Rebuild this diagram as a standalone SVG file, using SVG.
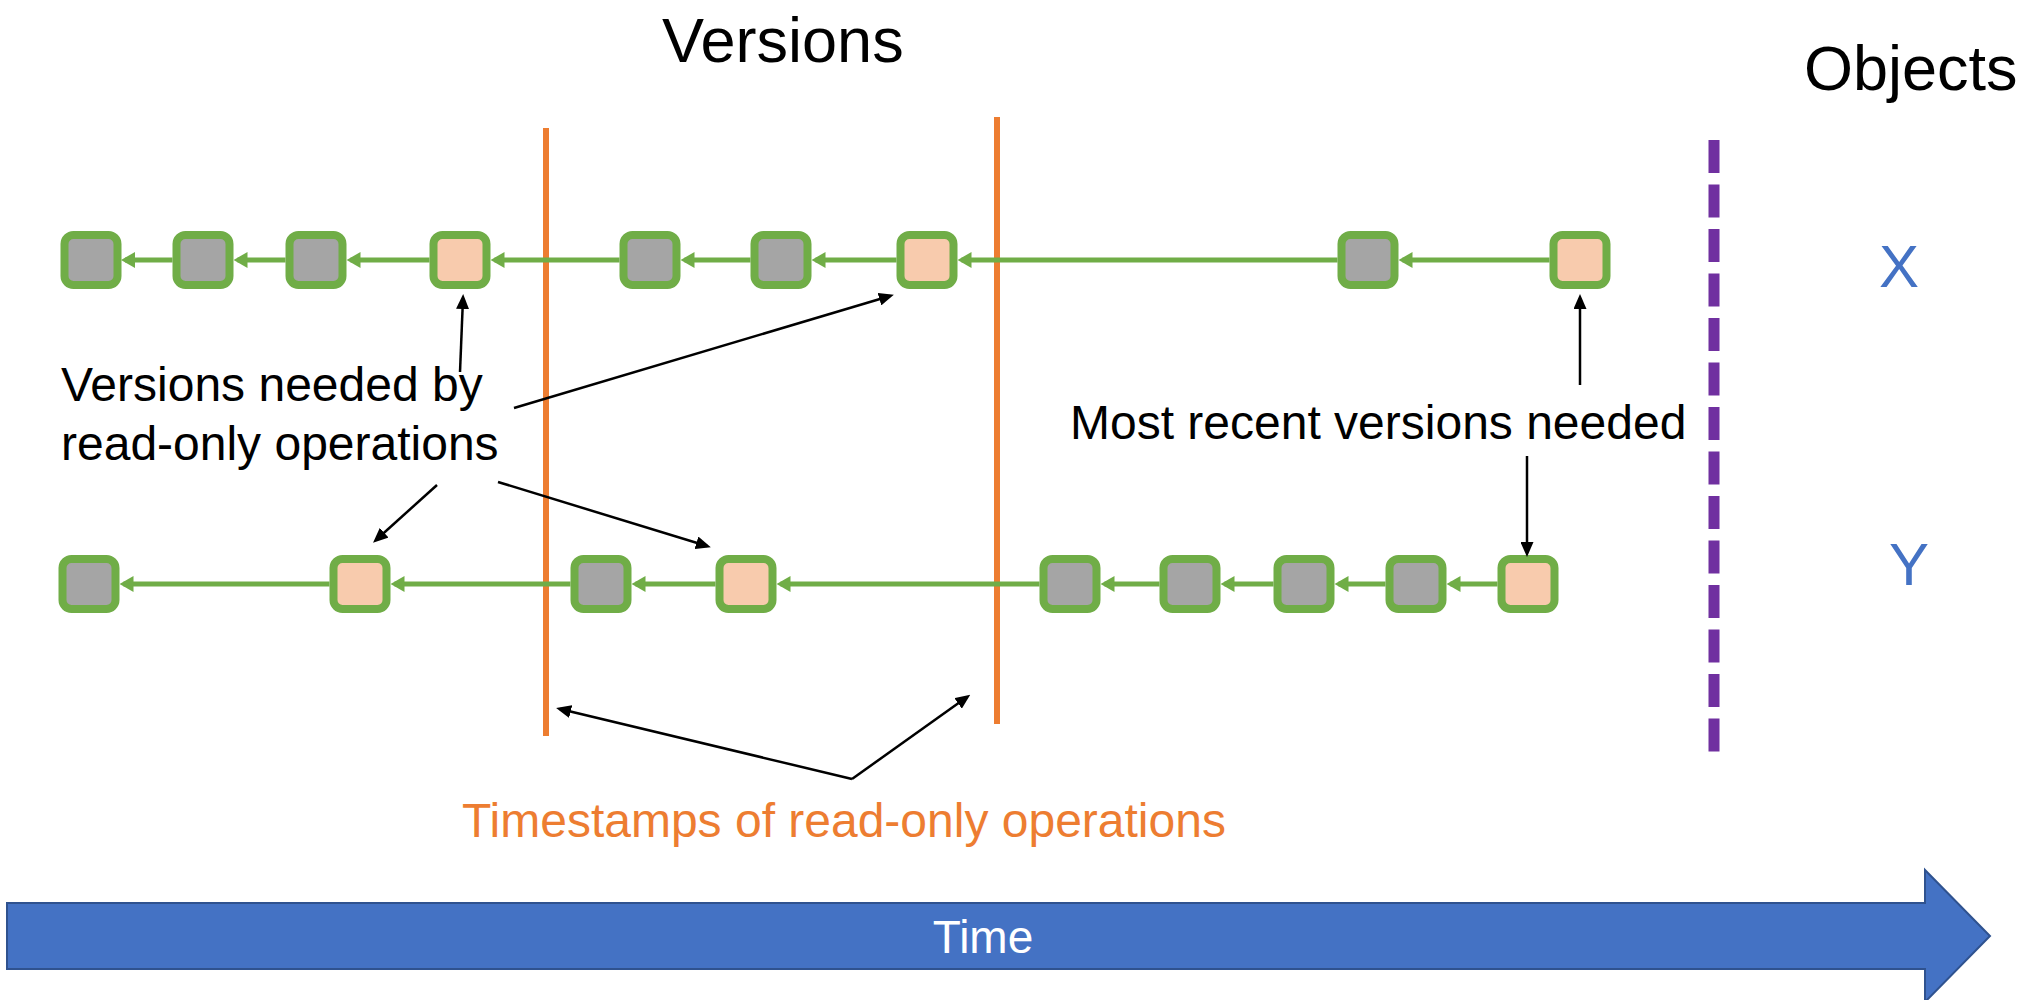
<svg xmlns="http://www.w3.org/2000/svg" width="2025" height="1000" viewBox="0 0 2025 1000">
  <style>
    .txt { font-family: "Liberation Sans", Arial, sans-serif; }
    .title { font-size: 63px; fill: #000; }
    .note { font-size: 48px; fill: #000; }
    .obj { font-size: 60px; fill: #4472C4; }
    .ts { font-size: 48px; fill: #ED7D31; }
    .node rect { stroke: #70AD47; stroke-width: 8; }
    .old rect { fill: #A5A5A5; }
    .need rect { fill: #F8CBAD; }
    .chain line { stroke: #70AD47; stroke-width: 5; marker-end: url(#gArrow); }
    .callout line { stroke: #000; stroke-width: 2.5; fill: none; marker-end: url(#kArrow); }
    .stamp { stroke: #ED7D31; stroke-width: 6; }
  </style>
  <defs>
    <marker id="gArrow" markerUnits="userSpaceOnUse" markerWidth="14" markerHeight="16" refX="10" refY="8" orient="auto">
      <path d="M0,0 L14,8 L0,16 Z" fill="#70AD47"/>
    </marker>
    <marker id="kArrow" markerUnits="userSpaceOnUse" markerWidth="15" markerHeight="13" refX="11" refY="6.5" orient="auto">
      <path d="M0,0 L15,6.5 L0,13 Z" fill="#000"/>
    </marker>
  </defs>

  <rect width="2025" height="1000" fill="#fff"/>

  <!-- titles -->
  <text class="txt title" x="662" y="62">Versions</text>
  <text class="txt title" x="1804" y="90">Objects</text>
  <text class="txt obj" x="1879" y="287">X</text>
  <text class="txt obj" x="1889" y="585">Y</text>

  <!-- timestamps of read-only operations -->
  <g id="timestamps">
    <line class="stamp" x1="546" y1="128" x2="546" y2="736"/>
    <line class="stamp" x1="997" y1="117" x2="997" y2="724"/>
  </g>

  <!-- boundary of current time -->
  <line id="now" x1="1714" y1="140" x2="1714" y2="752" stroke="#7030A0" stroke-width="11" stroke-dasharray="33 11.5"/>

  <!-- version chains: each arrow points from a version to its predecessor -->
  <g id="connectors" class="chain">
    <!-- object X -->
    <line x1="1549.5" y1="260" x2="1402.5" y2="260"/>
    <line x1="1337.5" y1="260" x2="961.5" y2="260"/>
    <line x1="896.5" y1="260" x2="815.5" y2="260"/>
    <line x1="750.5" y1="260" x2="684.5" y2="260"/>
    <line x1="619.5" y1="260" x2="494.5" y2="260"/>
    <line x1="429.5" y1="260" x2="350.5" y2="260"/>
    <line x1="285.5" y1="260" x2="237.5" y2="260"/>
    <line x1="172.5" y1="260" x2="125" y2="260"/>
    <!-- object Y -->
    <line x1="1497.5" y1="584" x2="1450.5" y2="584"/>
    <line x1="1385.5" y1="584" x2="1338.5" y2="584"/>
    <line x1="1273.5" y1="584" x2="1224.5" y2="584"/>
    <line x1="1159.5" y1="584" x2="1104.5" y2="584"/>
    <line x1="1039.5" y1="584" x2="780.5" y2="584"/>
    <line x1="715.5" y1="584" x2="635.5" y2="584"/>
    <line x1="570.5" y1="584" x2="394.5" y2="584"/>
    <line x1="329.5" y1="584" x2="123.5" y2="584"/>
  </g>

  <!-- versions of object X -->
  <g id="x1" class="node old"><rect x="64.5" y="235" width="53" height="50" rx="9"/></g>
  <g id="x2" class="node old"><rect x="176.5" y="235" width="53" height="50" rx="9"/></g>
  <g id="x3" class="node old"><rect x="289.5" y="235" width="53" height="50" rx="9"/></g>
  <g id="x4" class="node need"><rect x="433.5" y="235" width="53" height="50" rx="9"/></g>
  <g id="x5" class="node old"><rect x="623.5" y="235" width="53" height="50" rx="9"/></g>
  <g id="x6" class="node old"><rect x="754.5" y="235" width="53" height="50" rx="9"/></g>
  <g id="x7" class="node need"><rect x="900.5" y="235" width="53" height="50" rx="9"/></g>
  <g id="x8" class="node old"><rect x="1341.5" y="235" width="53" height="50" rx="9"/></g>
  <g id="x9" class="node need"><rect x="1553.5" y="235" width="53" height="50" rx="9"/></g>

  <!-- versions of object Y -->
  <g id="y1" class="node old"><rect x="62.5" y="559" width="53" height="50" rx="9"/></g>
  <g id="y2" class="node need"><rect x="333.5" y="559" width="53" height="50" rx="9"/></g>
  <g id="y3" class="node old"><rect x="574.5" y="559" width="53" height="50" rx="9"/></g>
  <g id="y4" class="node need"><rect x="719.5" y="559" width="53" height="50" rx="9"/></g>
  <g id="y5" class="node old"><rect x="1043.5" y="559" width="53" height="50" rx="9"/></g>
  <g id="y6" class="node old"><rect x="1163.5" y="559" width="53" height="50" rx="9"/></g>
  <g id="y7" class="node old"><rect x="1277.5" y="559" width="53" height="50" rx="9"/></g>
  <g id="y8" class="node old"><rect x="1389.5" y="559" width="53" height="50" rx="9"/></g>
  <g id="y9" class="node need"><rect x="1501.5" y="559" width="53" height="50" rx="9"/></g>

  <!-- callouts -->
  <g id="callouts" class="callout">
    <line x1="460" y1="372" x2="463" y2="298"/>
    <line x1="514" y1="408" x2="890" y2="296"/>
    <line x1="437" y1="485" x2="376" y2="540"/>
    <line x1="498" y1="482" x2="707" y2="546"/>
    <line x1="1580" y1="385" x2="1580" y2="298"/>
    <line x1="1527" y1="456" x2="1527" y2="553"/>
    <line x1="852" y1="779" x2="560" y2="709"/>
    <line x1="852" y1="779" x2="967" y2="697"/>
  </g>

  <text class="txt note" x="61" y="401">Versions needed by</text>
  <text class="txt note" x="61" y="460">read-only operations</text>
  <text class="txt note" x="1070" y="439">Most recent versions needed</text>
  <text class="txt ts" x="462" y="837">Timestamps of read-only operations</text>

  <!-- time axis -->
  <g id="time">
    <path d="M7,903 L1925,903 L1925,870 L1990,936 L1925,1002 L1925,969 L7,969 Z" fill="#4472C4" stroke="#2F528F" stroke-width="2"/>
    <text class="txt" x="983" y="953" font-size="46" fill="#fff" text-anchor="middle">Time</text>
  </g>
</svg>
